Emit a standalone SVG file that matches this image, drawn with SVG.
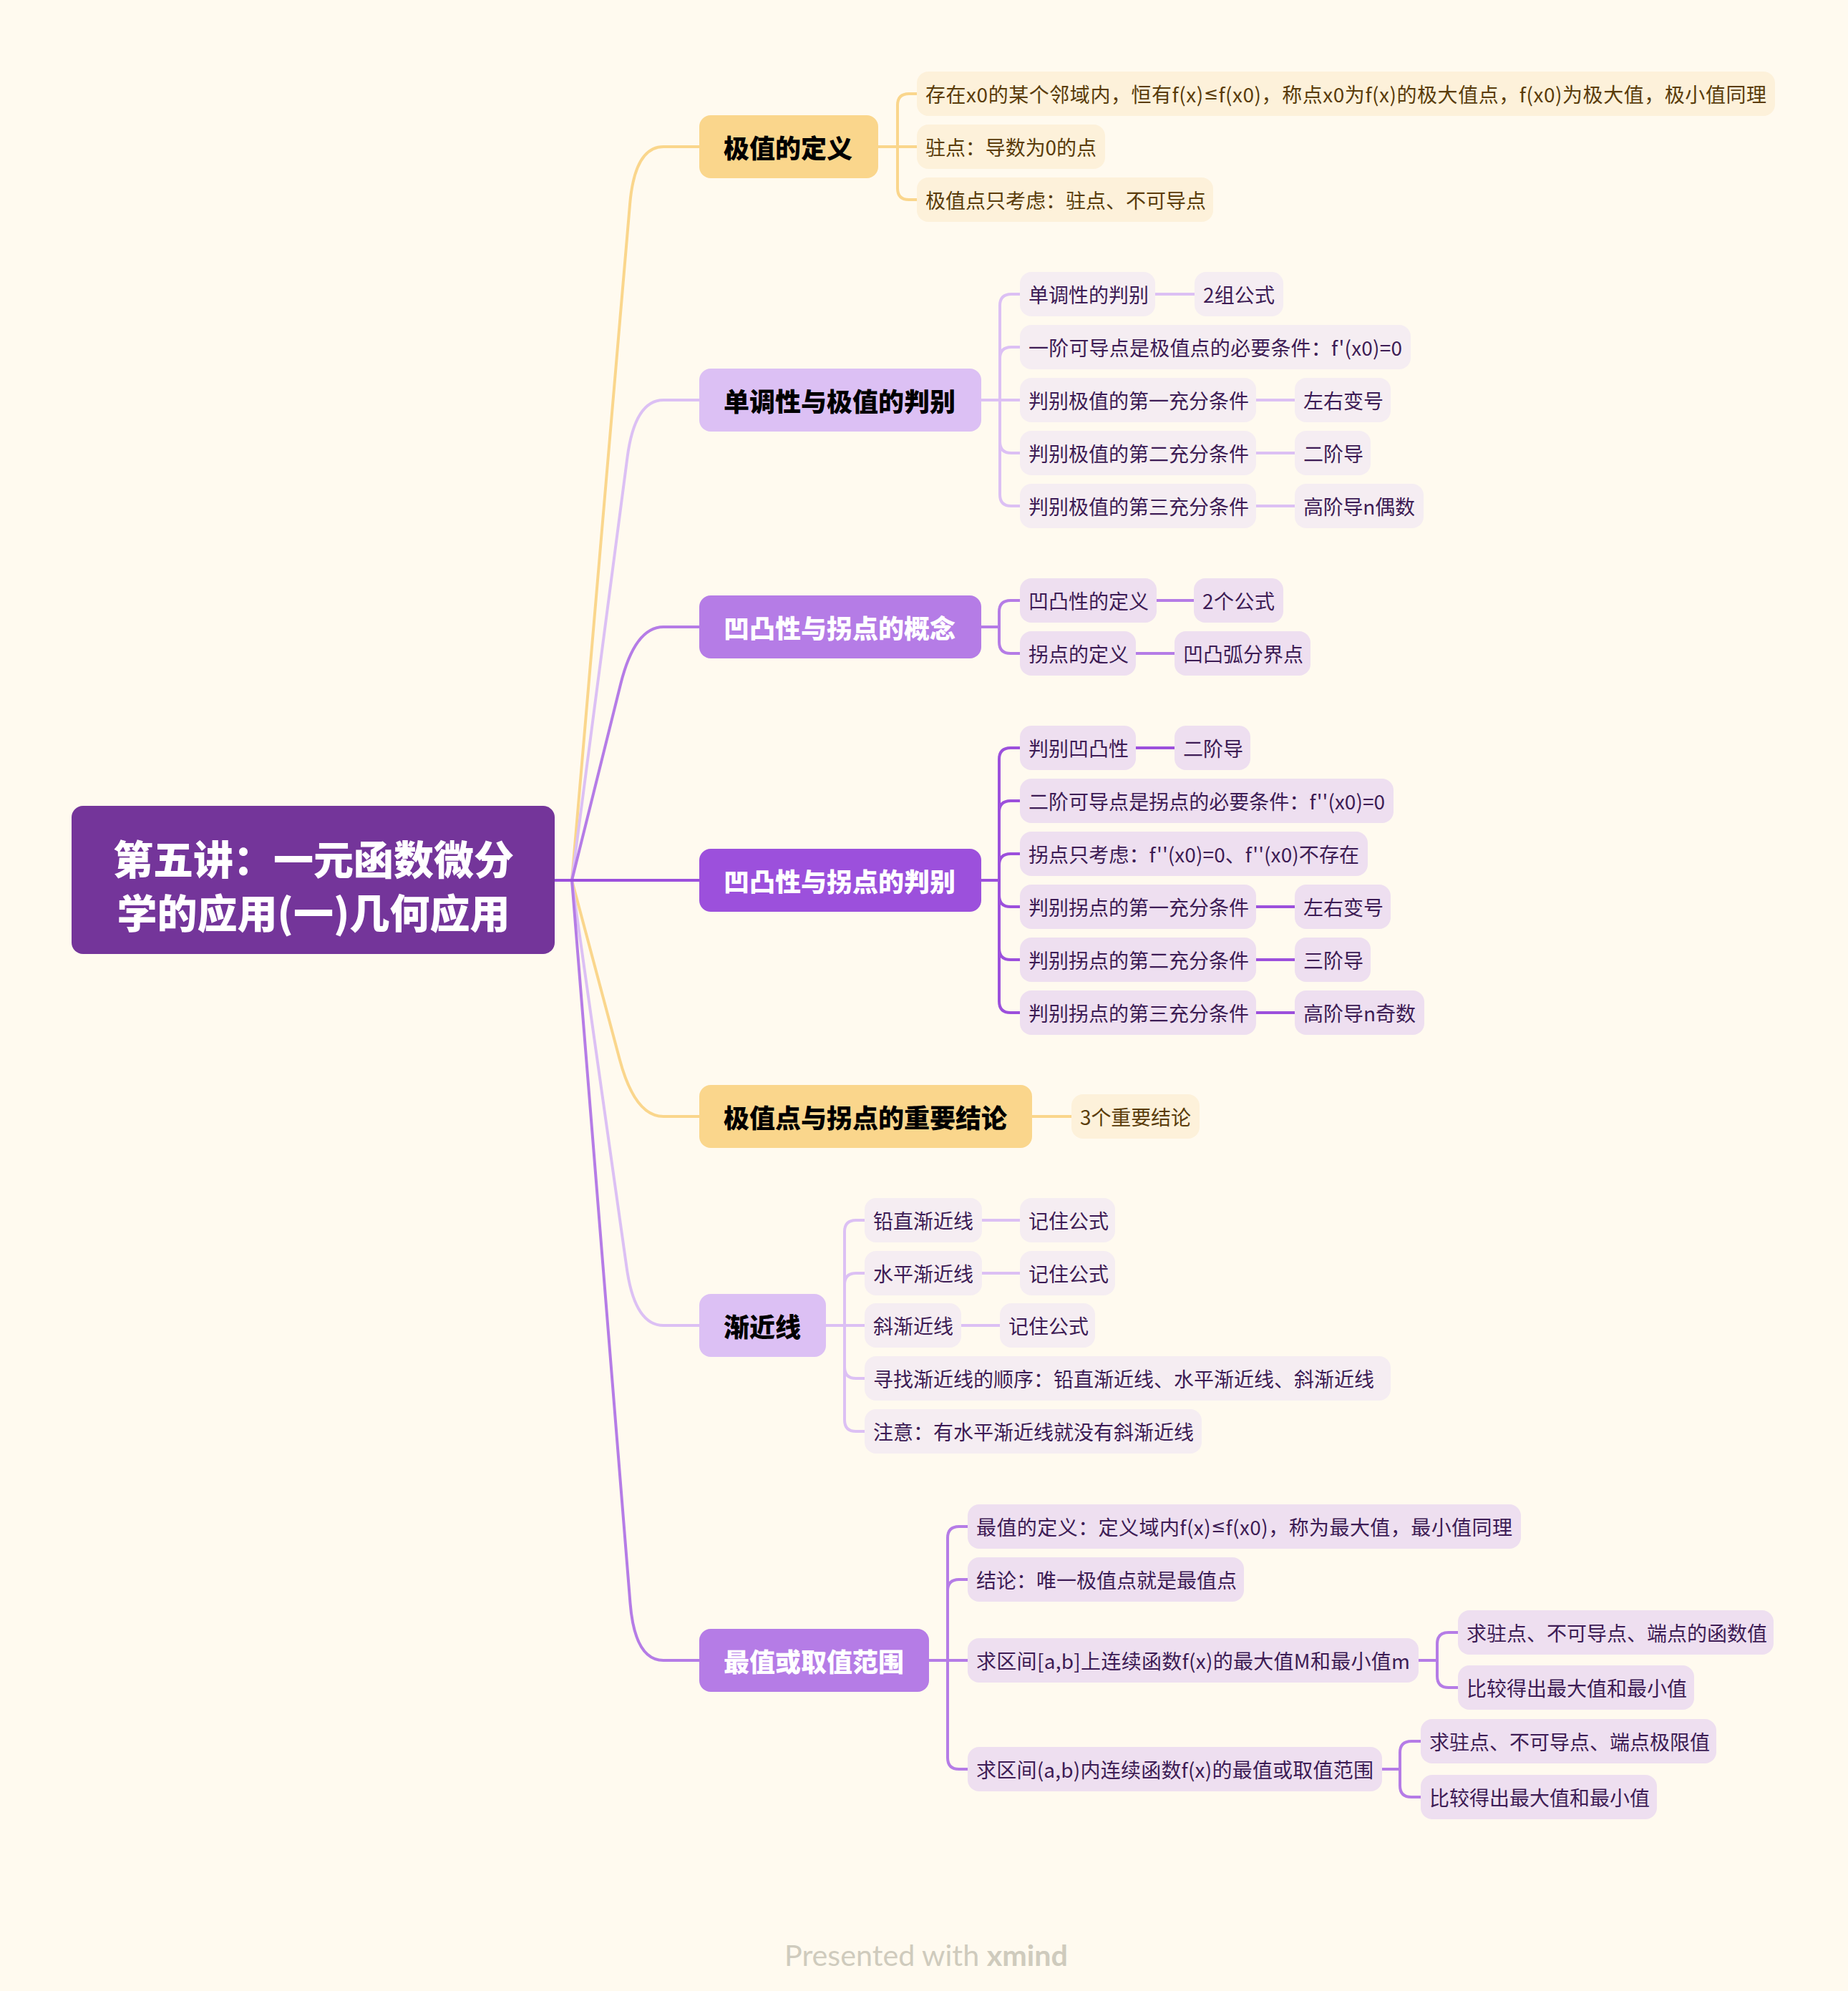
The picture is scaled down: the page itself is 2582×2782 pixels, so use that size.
<svg xmlns="http://www.w3.org/2000/svg" width="2582" height="2782" viewBox="0 0 2582 2782">
<style>
text{font-family:"Noto Sans CJK SC","Noto Sans",sans-serif;dominant-baseline:central}
.rt{fill:#ffffff;font-size:56px;font-weight:900;text-anchor:middle}
.l1{font-size:36px;font-weight:900}
.k{fill:#000000}.w{fill:#ffffff}
.y1{fill:#fad68c}.p1{fill:#dcc0f4}.m1{fill:#b57ce6}.d1{fill:#9c50dc}
.cy{fill:#fdf1da}.cp{fill:#f5edf2}.cm{fill:#eedff0}
.t{font-size:28px}.tp{fill:#3d1c55}.tb{fill:#5a3c0a}
.le{font-family:"DejaVu Sans",sans-serif;font-size:24px}
.ln{fill:none;stroke-width:4;stroke-linecap:round;stroke-linejoin:round}
.ly{stroke:#fad68c}.lp{stroke:#dcc0f4}.lm{stroke:#b57ce6}.ld{stroke:#9c50dc}
.ft{font-family:Lato,"Open Sans",sans-serif;font-size:41px;fill:#cfcbbd;text-anchor:middle}
</style>
<rect x="0" y="0" width="2582" height="2782" fill="#fffaef"/>
<g id="connectors">
<path class="ln ly" d="M776 1230 H799 L880.1 285 Q887 205 927 205 H977"/>
<path class="ln lp" d="M776 1230 H799 L876.5 639 Q887 559 927 559 H977"/>
<path class="ln lm" d="M776 1230 H799 L867.1 956 Q887 876 927 876 H977"/>
<path class="ln ly" d="M776 1230 H799 L865.7 1480 Q887 1560 927 1560 H977"/>
<path class="ln lp" d="M776 1230 H799 L875.7 1772 Q887 1852 927 1852 H977"/>
<path class="ln lm" d="M776 1230 H799 L880.5 2240 Q887 2320 927 2320 H977"/>
<path class="ln ld" d="M776 1230 H977"/>
<path class="ln ly" d="M1227 205 H1254 V147 Q1254 131 1270 131 H1281"/>
<path class="ln ly" d="M1227 205 H1281"/>
<path class="ln ly" d="M1227 205 H1254 V263 Q1254 279 1270 279 H1281"/>
<path class="ln lp" d="M1371 559 H1397 V427 Q1397 411 1413 411 H1425"/>
<path class="ln lp" d="M1371 559 H1397 V501 Q1397 485 1413 485 H1425"/>
<path class="ln lp" d="M1371 559 H1425"/>
<path class="ln lp" d="M1371 559 H1397 V617 Q1397 633 1413 633 H1425"/>
<path class="ln lp" d="M1371 559 H1397 V691 Q1397 707 1413 707 H1425"/>
<path class="ln lp" d="M1614 411 H1669"/>
<path class="ln lp" d="M1755 559 H1809"/>
<path class="ln lp" d="M1755 633 H1809"/>
<path class="ln lp" d="M1755 707 H1809"/>
<path class="ln lm" d="M1371 876 H1396 V855 Q1396 839 1412 839 H1425"/>
<path class="ln lm" d="M1371 876 H1396 V897 Q1396 913 1412 913 H1425"/>
<path class="ln lm" d="M1616 839 H1668"/>
<path class="ln lm" d="M1587 913 H1641"/>
<path class="ln ld" d="M1371 1230 H1396 V1061 Q1396 1045 1412 1045 H1425"/>
<path class="ln ld" d="M1371 1230 H1396 V1135 Q1396 1119 1412 1119 H1425"/>
<path class="ln ld" d="M1371 1230 H1396 V1209 Q1396 1193 1412 1193 H1425"/>
<path class="ln ld" d="M1371 1230 H1396 V1251 Q1396 1267 1412 1267 H1425"/>
<path class="ln ld" d="M1371 1230 H1396 V1325 Q1396 1341 1412 1341 H1425"/>
<path class="ln ld" d="M1371 1230 H1396 V1399 Q1396 1415 1412 1415 H1425"/>
<path class="ln ld" d="M1587 1045 H1641"/>
<path class="ln ld" d="M1755 1267 H1809"/>
<path class="ln ld" d="M1755 1341 H1809"/>
<path class="ln ld" d="M1755 1415 H1809"/>
<path class="ln ly" d="M1442 1560 H1497"/>
<path class="ln lp" d="M1154 1852 H1180 V1721 Q1180 1705 1196 1705 H1208"/>
<path class="ln lp" d="M1154 1852 H1180 V1795 Q1180 1779 1196 1779 H1208"/>
<path class="ln lp" d="M1154 1852 H1208"/>
<path class="ln lp" d="M1154 1852 H1180 V1910 Q1180 1926 1196 1926 H1208"/>
<path class="ln lp" d="M1154 1852 H1180 V1984 Q1180 2000 1196 2000 H1208"/>
<path class="ln lp" d="M1372 1705 H1425"/>
<path class="ln lp" d="M1372 1779 H1425"/>
<path class="ln lp" d="M1343 1852 H1397"/>
<path class="ln lm" d="M1298 2320 H1324 V2149 Q1324 2133 1340 2133 H1352"/>
<path class="ln lm" d="M1298 2320 H1324 V2223 Q1324 2207 1340 2207 H1352"/>
<path class="ln lm" d="M1298 2320 H1352"/>
<path class="ln lm" d="M1298 2320 H1324 V2456 Q1324 2472 1340 2472 H1352"/>
<path class="ln lm" d="M1982 2320 H2008 V2297 Q2008 2281 2024 2281 H2037"/>
<path class="ln lm" d="M1982 2320 H2008 V2342 Q2008 2358 2024 2358 H2037"/>
<path class="ln lm" d="M1931 2472 H1956 V2449 Q1956 2433 1972 2433 H1985"/>
<path class="ln lm" d="M1931 2472 H1956 V2495 Q1956 2511 1972 2511 H1985"/>
</g>
<g id="root">
<rect x="100" y="1126" width="675" height="207" rx="16" fill="#74359a"/>
<text class="rt" x="438" y="1197">第五讲：一元函数微分</text>
<text class="rt" x="438" y="1272">学的应用(一)几何应用</text>
</g>
<g id="b1">
<rect class="y1" x="977" y="161" width="250" height="88" rx="16"/>
<text class="l1 k" x="1011" y="205">极值的定义</text>
</g>
<g id="b1c1"><rect class="cy" x="1281" y="100" width="1199" height="62" rx="16"/><text class="t tb" x="1293" y="131" textLength="1175" lengthAdjust="spacing">存在x0的某个邻域内，恒有f(x)<tspan class="le">≤</tspan>f(x0)，称点x0为f(x)的极大值点，f(x0)为极大值，极小值同理</text></g>
<g id="b1c2"><rect class="cy" x="1281" y="174" width="263" height="62" rx="16"/><text class="t tb" x="1293" y="205" textLength="239" lengthAdjust="spacing">驻点：导数为0的点</text></g>
<g id="b1c3"><rect class="cy" x="1281" y="248" width="414" height="62" rx="16"/><text class="t tb" x="1293" y="279">极值点只考虑：驻点、不可导点</text></g>
<g id="b2">
<rect class="p1" x="977" y="515" width="394" height="88" rx="16"/>
<text class="l1 k" x="1011" y="559">单调性与极值的判别</text>
</g>
<g id="b2c1"><rect class="cp" x="1425" y="380" width="189" height="62" rx="16"/><text class="t tp" x="1437" y="411">单调性的判别</text></g>
<g id="b2c1a"><rect class="cp" x="1669" y="380" width="124" height="62" rx="16"/><text class="t tp" x="1681" y="411" textLength="100" lengthAdjust="spacing">2组公式</text></g>
<g id="b2c2"><rect class="cp" x="1425" y="454" width="546" height="62" rx="16"/><text class="t tp" x="1437" y="485" textLength="522" lengthAdjust="spacing">一阶可导点是极值点的必要条件：f'(x0)=0</text></g>
<g id="b2c3"><rect class="cp" x="1425" y="528" width="330" height="62" rx="16"/><text class="t tp" x="1437" y="559">判别极值的第一充分条件</text></g>
<g id="b2c3a"><rect class="cp" x="1809" y="528" width="134" height="62" rx="16"/><text class="t tp" x="1821" y="559">左右变号</text></g>
<g id="b2c4"><rect class="cp" x="1425" y="602" width="330" height="62" rx="16"/><text class="t tp" x="1437" y="633">判别极值的第二充分条件</text></g>
<g id="b2c4a"><rect class="cp" x="1809" y="602" width="106" height="62" rx="16"/><text class="t tp" x="1821" y="633">二阶导</text></g>
<g id="b2c5"><rect class="cp" x="1425" y="676" width="330" height="62" rx="16"/><text class="t tp" x="1437" y="707">判别极值的第三充分条件</text></g>
<g id="b2c5a"><rect class="cp" x="1809" y="676" width="180" height="62" rx="16"/><text class="t tp" x="1821" y="707" textLength="156" lengthAdjust="spacing">高阶导n偶数</text></g>
<g id="b3">
<rect class="m1" x="977" y="832" width="394" height="88" rx="16"/>
<text class="l1 w" x="1011" y="876">凹凸性与拐点的概念</text>
</g>
<g id="b3c1"><rect class="cm" x="1425" y="808" width="191" height="62" rx="16"/><text class="t tp" x="1437" y="839">凹凸性的定义</text></g>
<g id="b3c1a"><rect class="cm" x="1668" y="808" width="125" height="62" rx="16"/><text class="t tp" x="1680" y="839" textLength="101" lengthAdjust="spacing">2个公式</text></g>
<g id="b3c2"><rect class="cm" x="1425" y="882" width="162" height="62" rx="16"/><text class="t tp" x="1437" y="913">拐点的定义</text></g>
<g id="b3c2a"><rect class="cm" x="1641" y="882" width="190" height="62" rx="16"/><text class="t tp" x="1653" y="913">凹凸弧分界点</text></g>
<g id="b4">
<rect class="d1" x="977" y="1186" width="394" height="88" rx="16"/>
<text class="l1 w" x="1011" y="1230">凹凸性与拐点的判别</text>
</g>
<g id="b4c1"><rect class="cm" x="1425" y="1014" width="162" height="62" rx="16"/><text class="t tp" x="1437" y="1045">判别凹凸性</text></g>
<g id="b4c1a"><rect class="cm" x="1641" y="1014" width="106" height="62" rx="16"/><text class="t tp" x="1653" y="1045">二阶导</text></g>
<g id="b4c2"><rect class="cm" x="1425" y="1088" width="522" height="62" rx="16"/><text class="t tp" x="1437" y="1119" textLength="498" lengthAdjust="spacing">二阶可导点是拐点的必要条件：f''(x0)=0</text></g>
<g id="b4c3"><rect class="cm" x="1425" y="1162" width="486" height="62" rx="16"/><text class="t tp" x="1437" y="1193" textLength="462" lengthAdjust="spacing">拐点只考虑：f''(x0)=0、f''(x0)不存在</text></g>
<g id="b4c4"><rect class="cm" x="1425" y="1236" width="330" height="62" rx="16"/><text class="t tp" x="1437" y="1267">判别拐点的第一充分条件</text></g>
<g id="b4c4a"><rect class="cm" x="1809" y="1236" width="134" height="62" rx="16"/><text class="t tp" x="1821" y="1267">左右变号</text></g>
<g id="b4c5"><rect class="cm" x="1425" y="1310" width="330" height="62" rx="16"/><text class="t tp" x="1437" y="1341">判别拐点的第二充分条件</text></g>
<g id="b4c5a"><rect class="cm" x="1809" y="1310" width="106" height="62" rx="16"/><text class="t tp" x="1821" y="1341">三阶导</text></g>
<g id="b4c6"><rect class="cm" x="1425" y="1384" width="330" height="62" rx="16"/><text class="t tp" x="1437" y="1415">判别拐点的第三充分条件</text></g>
<g id="b4c6a"><rect class="cm" x="1809" y="1384" width="181" height="62" rx="16"/><text class="t tp" x="1821" y="1415" textLength="157" lengthAdjust="spacing">高阶导n奇数</text></g>
<g id="b5">
<rect class="y1" x="977" y="1516" width="465" height="88" rx="16"/>
<text class="l1 k" x="1011" y="1560">极值点与拐点的重要结论</text>
</g>
<g id="b5c1"><rect class="cy" x="1497" y="1529" width="179" height="62" rx="16"/><text class="t tb" x="1509" y="1560" textLength="155" lengthAdjust="spacing">3个重要结论</text></g>
<g id="b6">
<rect class="p1" x="977" y="1808" width="177" height="88" rx="16"/>
<text class="l1 k" x="1011" y="1852">渐近线</text>
</g>
<g id="b6c1"><rect class="cp" x="1208" y="1674" width="164" height="62" rx="16"/><text class="t tp" x="1220" y="1705">铅直渐近线</text></g>
<g id="b6c1a"><rect class="cp" x="1425" y="1674" width="133" height="62" rx="16"/><text class="t tp" x="1437" y="1705">记住公式</text></g>
<g id="b6c2"><rect class="cp" x="1208" y="1748" width="164" height="62" rx="16"/><text class="t tp" x="1220" y="1779">水平渐近线</text></g>
<g id="b6c2a"><rect class="cp" x="1425" y="1748" width="133" height="62" rx="16"/><text class="t tp" x="1437" y="1779">记住公式</text></g>
<g id="b6c3"><rect class="cp" x="1208" y="1821" width="135" height="62" rx="16"/><text class="t tp" x="1220" y="1852">斜渐近线</text></g>
<g id="b6c3a"><rect class="cp" x="1397" y="1821" width="133" height="62" rx="16"/><text class="t tp" x="1409" y="1852">记住公式</text></g>
<g id="b6c4"><rect class="cp" x="1208" y="1895" width="735" height="62" rx="16"/><text class="t tp" x="1220" y="1926">寻找渐近线的顺序：铅直渐近线、水平渐近线、斜渐近线</text></g>
<g id="b6c5"><rect class="cp" x="1208" y="1969" width="471" height="62" rx="16"/><text class="t tp" x="1220" y="2000">注意：有水平渐近线就没有斜渐近线</text></g>
<g id="b7">
<rect class="m1" x="977" y="2276" width="321" height="88" rx="16"/>
<text class="l1 w" x="1011" y="2320">最值或取值范围</text>
</g>
<g id="b7c1"><rect class="cm" x="1352" y="2102" width="773" height="62" rx="16"/><text class="t tp" x="1364" y="2133" textLength="749" lengthAdjust="spacing">最值的定义：定义域内f(x)<tspan class="le">≤</tspan>f(x0)，称为最大值，最小值同理</text></g>
<g id="b7c2"><rect class="cm" x="1352" y="2176" width="386" height="62" rx="16"/><text class="t tp" x="1364" y="2207">结论：唯一极值点就是最值点</text></g>
<g id="b7c3"><rect class="cm" x="1352" y="2289" width="630" height="62" rx="16"/><text class="t tp" x="1364" y="2320" textLength="606" lengthAdjust="spacing">求区间[a,b]上连续函数f(x)的最大值M和最小值m</text></g>
<g id="b7c3a"><rect class="cm" x="2037" y="2250" width="441" height="62" rx="16"/><text class="t tp" x="2049" y="2281">求驻点、不可导点、端点的函数值</text></g>
<g id="b7c3b"><rect class="cm" x="2037" y="2327" width="330" height="62" rx="16"/><text class="t tp" x="2049" y="2358">比较得出最大值和最小值</text></g>
<g id="b7c4"><rect class="cm" x="1352" y="2441" width="579" height="62" rx="16"/><text class="t tp" x="1364" y="2472" textLength="555" lengthAdjust="spacing">求区间(a,b)内连续函数f(x)的最值或取值范围</text></g>
<g id="b7c4a"><rect class="cm" x="1985" y="2402" width="413" height="62" rx="16"/><text class="t tp" x="1997" y="2433">求驻点、不可导点、端点极限值</text></g>
<g id="b7c4b"><rect class="cm" x="1985" y="2480" width="330" height="62" rx="16"/><text class="t tp" x="1997" y="2511">比较得出最大值和最小值</text></g>
<g id="footer">
<text class="ft" x="1294" y="2731" textLength="396" lengthAdjust="spacingAndGlyphs">Presented with <tspan font-weight="700">xmind</tspan></text>
</g>
</svg>
